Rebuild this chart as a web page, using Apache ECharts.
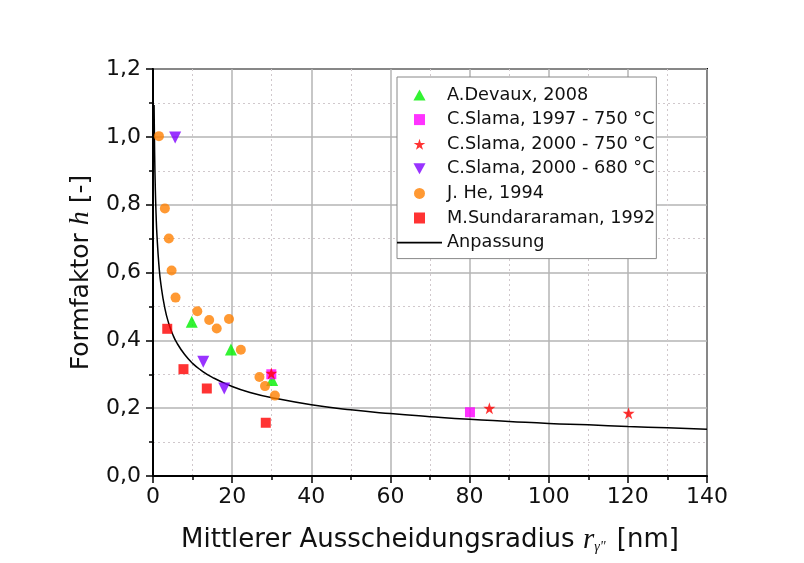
<!DOCTYPE html>
<html>
<head>
<meta charset="utf-8">
<script src="https://cdn.jsdelivr.net/npm/echarts@6/dist/echarts.min.js"></script>
<style>html,body{margin:0;padding:0;background:#fff}#c{width:804px;height:563px}</style>
</head>
<body>
<div id="c"></div>
<script>
// ---- data ----
const devauxX = [9.8, 19.7, 30.1];
const devauxY = [0.455, 0.373, 0.283];
const slama1997X = [29.9, 80.1];
const slama1997Y = [0.300, 0.188];
const slama2000_750X = [29.9, 85.0, 120.2];
const slama2000_750Y = [0.303, 0.200, 0.185];
const slama2000_680X = [5.6, 12.7, 18.0];
const slama2000_680Y = [0.998, 0.337, 0.258];
const heX = [1.5, 3.0, 4.0, 4.7, 5.7, 11.2, 14.2, 16.1, 19.2, 22.2, 26.9, 28.3, 30.8];
const heY = [1.002, 0.789, 0.700, 0.606, 0.526, 0.486, 0.460, 0.435, 0.463, 0.372, 0.292, 0.265, 0.237];
const sundX = [3.6, 7.7, 13.6, 28.5];
const sundY = [0.434, 0.315, 0.258, 0.157];
const fitX = [0.27, 0.4, 0.6, 0.8, 1, 1.5, 2, 3, 4, 5, 6, 8, 10, 12, 15, 20, 25, 30, 40, 50, 60, 70, 80, 90, 100, 110, 120, 130, 140];
const fitY = [1.094, 0.960, 0.841, 0.764, 0.710, 0.621, 0.565, 0.494, 0.449, 0.417, 0.393, 0.358, 0.332, 0.313, 0.291, 0.264, 0.245, 0.231, 0.210, 0.195, 0.184, 0.175, 0.167, 0.161, 0.155, 0.151, 0.146, 0.142, 0.138];
const legendNames = ['A.Devaux, 2008', 'C.Slama, 1997 - 750 °C', 'C.Slama, 2000 - 750 °C', 'C.Slama, 2000 - 680 °C', 'J. He, 1994', 'M.Sundararaman, 1992', 'Anpassung'];
const xTicks = {min: 0, max: 140, interval: 20};
const yTicks = {min: 0, max: 1.2, interval: 0.2};

const pairs = (xs, ys) => xs.map((x, i) => [x, ys[i]]);
const STAR = 'path://M50,0 L61,35 L98,35 L68,57 L79,91 L50,70 L21,91 L32,57 L2,35 L39,35 Z';
const TRI_UP = 'path://M0,10 L5.5,0 L11,10 Z';
const TRI_DN = 'path://M0,0 L11,0 L5.5,10 Z';
const SQ = 'path://M0,0 L10,0 L10,10 L0,10 Z';
const LINE_ICON = 'path://M0,0 L45,0 L45,1.6 L0,1.6 Z';
const FONT = 'DejaVu Sans';

const chart = echarts.init(document.getElementById('c'), null, {renderer: 'canvas'});
const comma = v => v.toFixed(1).replace('.', ',');

chart.setOption({
  backgroundColor: '#ffffff',
  animation: false,
  grid: {left: 153, right: 97, top: 69, bottom: 87, containLabel: false, outerBoundsMode: 'none',
         show: true, borderColor: '#000', borderWidth: 2, backgroundColor: 'transparent'},
  legend: {
    data: [
      {name: legendNames[0], icon: TRI_UP},
      {name: legendNames[1], icon: SQ},
      {name: legendNames[2], icon: STAR},
      {name: legendNames[3], icon: TRI_DN},
      {name: legendNames[4], icon: 'circle'},
      {name: legendNames[5], icon: SQ},
      {name: legendNames[6], icon: LINE_ICON}
    ],
    orient: 'vertical',
    left: 397, top: 77,
    padding: [8, 1, 6, 0],
    itemWidth: 45, itemHeight: 11, itemGap: 4.6,
    symbolRotate: 0,
    borderColor: '#888', borderWidth: 1, backgroundColor: '#fff',
    textStyle: {fontFamily: FONT, fontSize: 17.7, color: '#111', lineHeight: 20}
  },
  xAxis: {
    type: 'value', min: xTicks.min, max: xTicks.max, interval: xTicks.interval,
    name: '{t|Mittlerer Ausscheidungsradius }{i|r}{s|γ"}{t| [nm]}',
    nameLocation: 'middle', nameGap: 50,
    nameTextStyle: {
      rich: {
        t: {fontFamily: FONT, fontSize: 26, color: '#111'},
        i: {fontFamily: 'Liberation Serif', fontStyle: 'italic', fontSize: 29, color: '#111'},
        s: {fontFamily: 'Liberation Serif', fontStyle: 'italic', fontSize: 14, color: '#111', padding: [14, 3, 0, 0]}
      }
    },
    axisLine: {show: true, lineStyle: {color: '#000', width: 2}},
    axisTick: {show: true, inside: false, length: 7, lineStyle: {color: '#000', width: 1.5}},
    minorTick: {show: true, splitNumber: 2, length: 4, lineStyle: {color: '#000', width: 1.5}},
    axisLabel: {fontFamily: FONT, fontSize: 22, color: '#111', margin: 10},
    splitLine: {show: true, lineStyle: {color: '#b4b4b4', width: 1.5}},
    minorSplitLine: {show: true, lineStyle: {color: '#d0c8cc', width: 1, type: [2, 3]}}
  },
  yAxis: {
    type: 'value', min: yTicks.min, max: yTicks.max, interval: yTicks.interval,
    name: '{t|Formfaktor }{i|h}{t| [-]}',
    nameLocation: 'middle', nameGap: 57, nameRotate: 90,
    nameTextStyle: {
      rich: {
        t: {fontFamily: FONT, fontSize: 25, color: '#111'},
        i: {fontFamily: 'Liberation Serif', fontStyle: 'italic', fontSize: 28, color: '#111'}
      }
    },
    axisLine: {show: true, lineStyle: {color: '#000', width: 2}},
    axisTick: {show: true, inside: false, length: 7, lineStyle: {color: '#000', width: 1.5}},
    minorTick: {show: true, splitNumber: 2, length: 4, lineStyle: {color: '#000', width: 1.5}},
    axisLabel: {fontFamily: FONT, fontSize: 22, color: '#111', margin: 12, formatter: comma},
    splitLine: {show: true, lineStyle: {color: '#b4b4b4', width: 1.5}},
    minorSplitLine: {show: true, lineStyle: {color: '#d0c8cc', width: 1, type: [2, 3]}}
  },
  series: [
    {name: legendNames[6], type: 'line', data: pairs(fitX, fitY), symbol: 'none', smooth: true,
     lineStyle: {color: '#000', width: 1.5}, itemStyle: {color: '#000'}, z: 2},
    {name: legendNames[0], type: 'scatter', data: pairs(devauxX, devauxY), symbol: 'triangle', symbolSize: 12,
     itemStyle: {color: '#00f000'}, z: 3},
    {name: legendNames[1], type: 'scatter', data: pairs(slama1997X, slama1997Y), symbol: 'rect', symbolSize: 10,
     itemStyle: {color: '#ff00ff'}, z: 3},
    {name: legendNames[2], type: 'scatter', data: pairs(slama2000_750X, slama2000_750Y), symbol: STAR, symbolSize: 12,
     itemStyle: {color: '#ff0000'}, z: 4},
    {name: legendNames[3], type: 'scatter', data: pairs(slama2000_680X, slama2000_680Y), symbol: 'triangle', symbolRotate: 180, symbolSize: 12,
     itemStyle: {color: '#8000ff'}, z: 3},
    {name: legendNames[4], type: 'scatter', data: pairs(heX, heY), symbol: 'circle', symbolSize: 10,
     itemStyle: {color: '#ff8000'}, z: 3},
    {name: legendNames[5], type: 'scatter', data: pairs(sundX, sundY), symbol: 'rect', symbolSize: 10,
     itemStyle: {color: '#ff0000'}, z: 3}
  ]
});
</script>
</body>
</html>
